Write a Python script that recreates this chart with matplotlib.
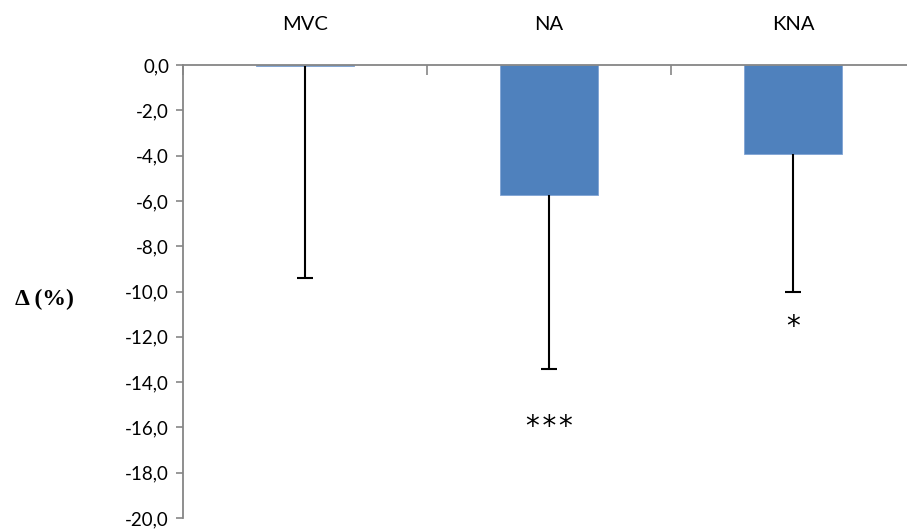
import numpy as np
import matplotlib.pyplot as plt

groups = ["MVC", "NA", "KNA"]
means = [-0.05, -5.72, -3.92]
sd_down = [9.35, 7.72, 6.08]
marks = ["", "*\u200a*\u200a*", "*"]
mark_y = [None, -16.33, -11.9]

grey = "#868686"

fig = plt.figure(figsize=(9.07, 5.31), dpi=100)
# axes runs slightly past the right edge, as in the original
ax = fig.add_axes([183 / 907, 1 - 518 / 531, 732 / 907, 453 / 531])

x = np.arange(len(groups))
ax.bar(x, means, width=0.4, color="#4F81BD", edgecolor="#7FA3D4", linewidth=0.6, zorder=2)
_, caps, _ = ax.errorbar(x, means, yerr=[sd_down, np.zeros(len(x))], fmt="none",
                         ecolor="black", elinewidth=1.5, capsize=6, capthick=1.5, zorder=3)
# only the lower whisker gets a cap
caps[1].set_visible(False)

for xi, m, my in zip(x, marks, mark_y):
    if m:
        ax.text(xi, my, m, ha="center", va="baseline", fontsize=20,
                family="DejaVu Sans")

ax.set_xlim(-0.5, 2.5)
ax.set_ylim(-20, 0)
yt = np.arange(-20, 0.1, 2)
ax.set_yticks(yt)
ax.set_yticklabels([f"{v:.1f}".replace(".", ",") for v in yt], family="Lato", fontsize=13.5)

ax.set_xticks([-0.5, 0.5, 1.5])
ax.set_xticklabels([])
ax.tick_params(axis="x", direction="in", length=7, color=grey, width=1.2,
               top=True, bottom=False)
ax.tick_params(axis="y", direction="out", length=5, color=grey, width=1.2, pad=5)

for side in ("right", "bottom"):
    ax.spines[side].set_visible(False)
for side in ("top", "left"):
    ax.spines[side].set_color(grey)
    ax.spines[side].set_linewidth(1.3)

for xi, g in zip(x, groups):
    ax.text(xi, 1.0 + 40 / 453, g, transform=ax.get_xaxis_transform(),
            ha="center", va="center", family="Lato", fontsize=14.5)

fig.text(44 / 907, 1 - 299 / 531, "Δ (%)", ha="center", va="center",
         family="Liberation Serif", fontweight="bold", fontsize=17)

fig.savefig("out.png", dpi=100)
